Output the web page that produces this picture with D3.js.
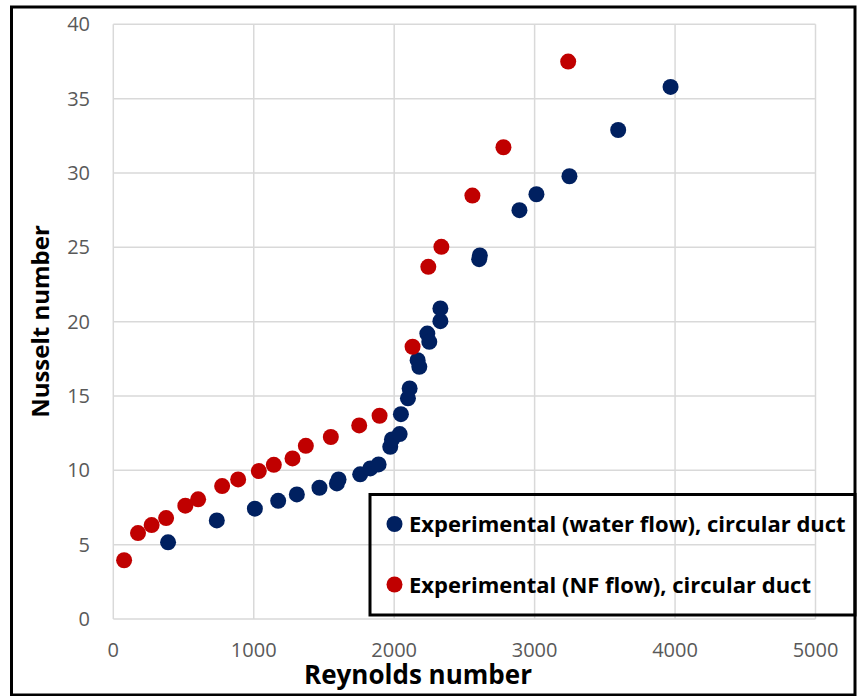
<!DOCTYPE html>
<meta charset="utf-8">
<style>
body { margin: 0; background: #fff; }
svg { display: block; font-family: "Open Sans", sans-serif; }
.grid line { stroke: #d9d9d9; stroke-width: 1.5px; }
.tick-label { fill: #595959; font-size: 20px; }
.title { font-weight: bold; font-size: 26px; fill: #000; }
.legend-text { font-weight: bold; font-size: 22px; fill: #000; }
</style>
<body>
<div id="chart"></div>
<script src="https://d3js.org/d3.v7.min.js"></script>
<script>

// Reynolds number / Nusselt number, water flow
var waterRe = [390, 737, 1008, 1174, 1307, 1468, 1592, 1604, 1758, 1830, 1889, 1972, 1984, 2039, 2048, 2098, 2110, 2167, 2179, 2236, 2250, 2329, 2329, 2605, 2610, 2892, 3013, 3248, 3595, 3968];
var waterNu = [5.16, 6.63, 7.42, 7.95, 8.38, 8.83, 9.12, 9.39, 9.73, 10.13, 10.40, 11.58, 12.08, 12.44, 13.78, 14.84, 15.51, 17.41, 16.96, 19.2, 18.64, 20.03, 20.89, 24.2, 24.45, 27.5, 28.57, 29.78, 32.89, 35.79];

// nanofluid flow
var nfRe = [77, 176, 273, 376, 513, 604, 775, 889, 1036, 1143, 1276, 1371, 1549, 1751, 1896, 2131, 2243, 2336, 2557, 2778, 3239];
var nfNu = [3.95, 5.78, 6.32, 6.79, 7.62, 8.05, 8.94, 9.39, 9.95, 10.37, 10.80, 11.65, 12.24, 13.02, 13.67, 18.31, 23.69, 25.03, 28.48, 31.73, 37.49];

var xTicks = [0, 1000, 2000, 3000, 4000, 5000];
var yTicks = [0, 5, 10, 15, 20, 25, 30, 35, 40];

var seriesNames = ["Experimental (water flow), circular duct", "Experimental (NF flow), circular duct"];
var seriesColors = ["#002060", "#c00000"];

var width = 858, height = 696;

var svg = d3.select("#chart").append("svg")
  .attr("width", width)
  .attr("height", height);

var x = d3.scaleLinear().domain([0, 5000]).range([113.3, 815.5]);
var y = d3.scaleLinear().domain([0, 40]).range([619, 24.3]);

// gridlines
var grid = svg.append("g").attr("class", "grid");
grid.selectAll(".v").data(xTicks).enter().append("line")
  .attr("x1", d => x(d)).attr("x2", d => x(d))
  .attr("y1", y(0)).attr("y2", y(40));
grid.selectAll(".h").data(yTicks).enter().append("line")
  .attr("x1", x(0)).attr("x2", x(5000))
  .attr("y1", d => y(d)).attr("y2", d => y(d));

// tick labels
svg.append("g").selectAll("text").data(yTicks).enter().append("text")
  .attr("class", "tick-label")
  .attr("x", 90)
  .attr("y", d => y(d))
  .attr("dy", "0.35em")
  .attr("text-anchor", "end")
  .text(d => d);

svg.append("g").selectAll("text").data(xTicks).enter().append("text")
  .attr("class", "tick-label")
  .attr("x", d => x(d))
  .attr("y", 657)
  .attr("text-anchor", "middle")
  .text(d => d);

// axis titles
svg.append("text")
  .attr("class", "title")
  .attr("x", 418)
  .attr("y", 684)
  .attr("text-anchor", "middle")
  .text("Reynolds number");

svg.append("text")
  .attr("class", "title")
  .style("font-size", "24px")
  .attr("transform", "translate(49," + 321.5 + ") rotate(-90)")
  .attr("text-anchor", "middle")
  .text("Nusselt number");

// points
var water = waterRe.map((d, i) => ({re: d, nu: waterNu[i]}));
var nf = nfRe.map((d, i) => ({re: d, nu: nfNu[i]}));

svg.append("g").selectAll("circle").data(water).enter().append("circle")
  .attr("cx", d => x(d.re))
  .attr("cy", d => y(d.nu))
  .attr("r", 8)
  .attr("fill", seriesColors[0]);

svg.append("g").selectAll("circle").data(nf).enter().append("circle")
  .attr("cx", d => x(d.re))
  .attr("cy", d => y(d.nu))
  .attr("r", 8)
  .attr("fill", seriesColors[1]);

// legend (no fill, grid shows through)
var legend = svg.append("g");
legend.append("rect")
  .attr("x", 370).attr("y", 494.5)
  .attr("width", 485).attr("height", 120.5)
  .attr("fill", "none")
  .attr("stroke", "#000")
  .attr("stroke-width", 3);

seriesNames.forEach(function(name, i){
  var cy = 524 + i * 60.5;
  legend.append("circle")
    .attr("cx", 394.5).attr("cy", cy).attr("r", 8)
    .attr("fill", seriesColors[i]);
  legend.append("text")
    .attr("class", "legend-text")
    .attr("x", 409)
    .attr("y", cy + 8)
    .text(name);
});

// outer frame
svg.append("rect")
  .attr("x", 11.5).attr("y", 7)
  .attr("width", 843.5).attr("height", 688)
  .attr("fill", "none")
  .attr("stroke", "#000")
  .attr("stroke-width", 3);

</script>
</body>
